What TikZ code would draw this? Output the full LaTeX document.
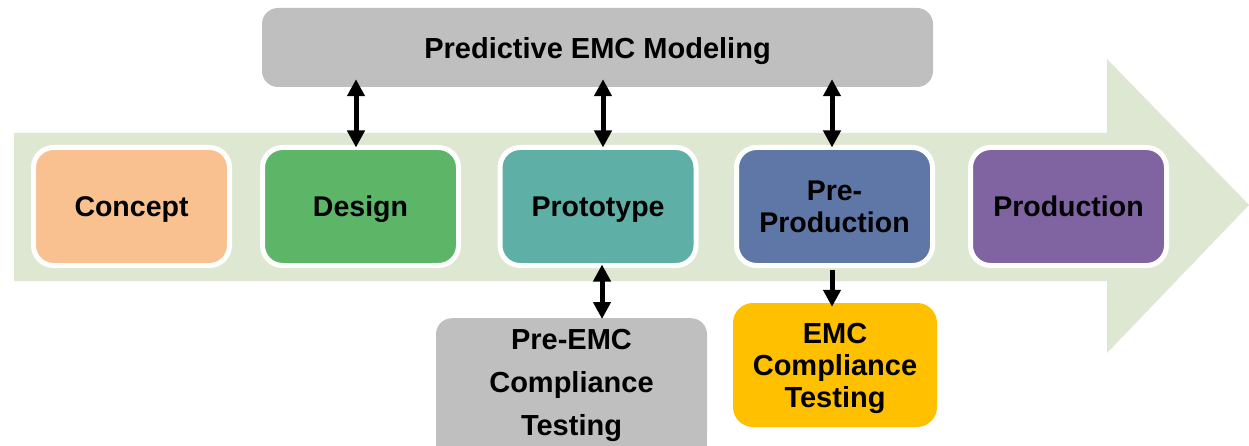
\documentclass[tikz,border=0pt]{standalone}
\usepackage{fontspec}
\setmainfont{Liberation Sans}
\usetikzlibrary{arrows.meta}
\definecolor{bandc}{HTML}{DEE7D2}
\definecolor{conceptc}{HTML}{F9C090}
\definecolor{designc}{HTML}{5DB567}
\definecolor{protoc}{HTML}{5EAFA6}
\definecolor{preprodc}{HTML}{5F77A7}
\definecolor{prodc}{HTML}{8064A2}
\definecolor{grayc}{HTML}{BFBFBF}
\definecolor{emcc}{HTML}{FFC000}
\tikzset{
  stage/.style={draw=white, line width=5pt, rounded corners=20pt, minimum width=196pt, minimum height=118pt, inner sep=0pt, align=center, text depth=0pt, font=\fontsize{28.5}{32}\selectfont\bfseries},
  graybox/.style={fill=grayc, rounded corners=16pt, inner sep=0pt, align=center, text depth=0pt},
  dbl/.style={line width=5pt, {Triangle[width=17pt,length=17pt]}-{Triangle[width=17pt,length=17pt]}},
  sgl/.style={line width=5pt, -{Triangle[width=17pt,length=17pt]}}
}
\begin{document}
\begin{tikzpicture}[x=1pt,y=-1pt]
\useasboundingbox (0,0) rectangle (1249,446);
\fill[bandc] (14,133) -- (1107,133) -- (1107,59) -- (1249,205) -- (1107,353) -- (1107,281) -- (14,281) -- cycle;
\node[graybox, minimum width=671pt, minimum height=79pt, font=\fontsize{29}{32}\selectfont\bfseries] (model) at (597.5,47.5) {Predictive EMC Modeling};
\node[stage, fill=conceptc] (concept) at (131.5,206.5) {Concept};
\node[stage, fill=designc] (design) at (360.5,206.5) {Design};
\node[stage, fill=protoc] (proto) at (598,206.5) {Prototype};
\node[stage, fill=preprodc] (preprod) at (834.5,206.5) {Pre-\\Production};
\node[stage, fill=prodc] (prod) at (1068.5,206.5) {Production};
\fill[grayc] (436,410) rectangle (707,446);
\node[graybox, minimum width=271pt, minimum height=128pt, font=\fontsize{29}{43}\selectfont\bfseries, anchor=north] (preemc) at (571.5,318) {Pre-EMC\\Compliance\\Testing};
\node[fill=emcc, rounded corners=20pt, inner sep=0pt, minimum width=204pt, minimum height=124pt, align=center, text depth=0pt, font=\fontsize{29}{32}\selectfont\bfseries] (emc) at (835,365) {EMC\\Compliance\\Testing};
\draw[dbl] ([xshift=-4.5pt,yshift=8pt]model.south -| design.north) -- ([xshift=-4.5pt,yshift=-2.5pt]design.north);
\draw[dbl] ([xshift=5pt,yshift=8pt]model.south -| proto.north) -- ([xshift=5pt,yshift=-2.5pt]proto.north);
\draw[dbl] ([xshift=-2.5pt,yshift=8pt]model.south -| preprod.north) -- ([xshift=-2.5pt,yshift=-2.5pt]preprod.north);
\draw[dbl] ([xshift=4pt,yshift=3.5pt]proto.south) -- ([xshift=4pt,yshift=-1pt]preemc.north -| proto.south);
\draw[sgl] ([xshift=-2.5pt,yshift=-1.5pt]preprod.south) -- ([xshift=-2.5pt,yshift=-4pt]emc.north -| preprod.south);
\end{tikzpicture}
\end{document}
